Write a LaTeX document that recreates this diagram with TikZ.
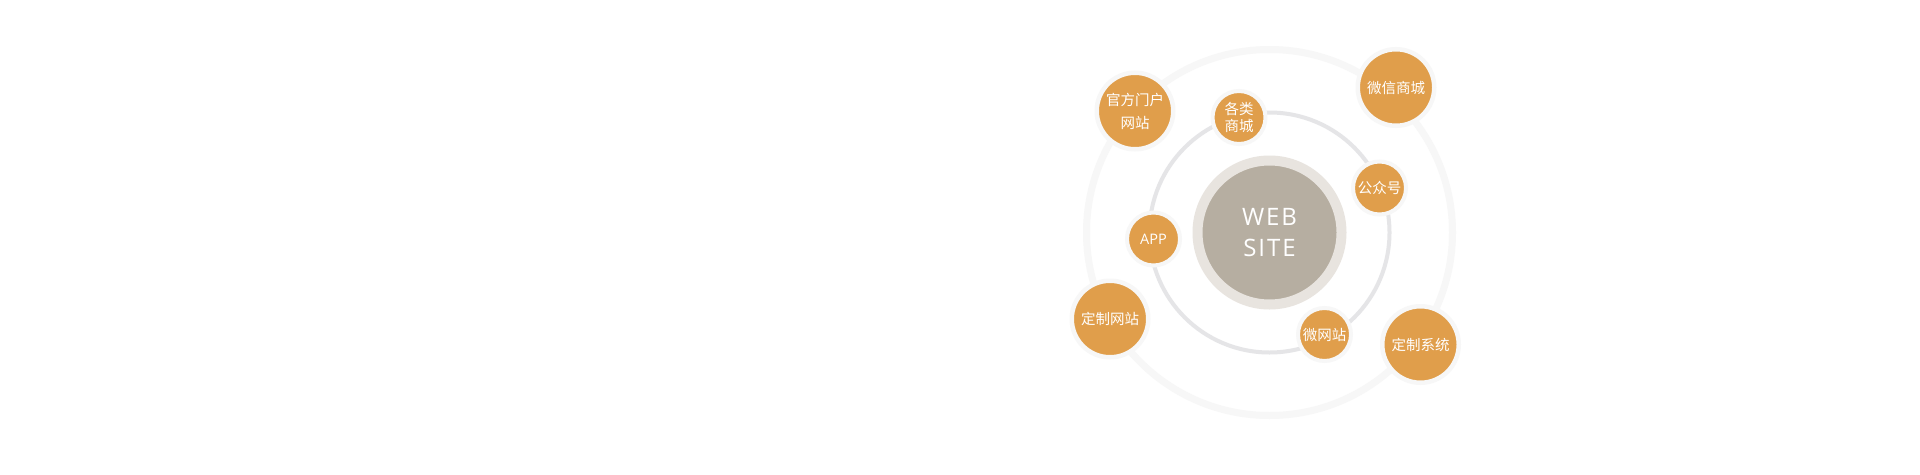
\documentclass[tikz,border=0pt]{standalone}
\usepackage{fontspec}
\newfontfamily\cjk{Noto Sans CJK SC}
\newfontfamily\webfont[LetterSpace=8]{Open Sans}
\newfontfamily\appfont{Open Sans}
\definecolor{siteorange}{HTML}{E09E4B}
\definecolor{sitehalo}{HTML}{F7F7F7}
\definecolor{sitecore}{HTML}{B6AEA1}
\definecolor{sitering}{HTML}{E8E4DF}
\definecolor{orbitin}{HTML}{E5E5E7}
\definecolor{orbitout}{HTML}{F7F7F7}
\begin{document}
\begin{tikzpicture}[x = 1pt, y = -1pt]
		\tikzstyle{every node} = [text = white, align = center, font = {\cjk\fontsize{14.5}{23}\selectfont}]
		\tikzstyle{planet} = [circle, fill = siteorange, draw = sitehalo, inner sep = 0pt]
		\tikzstyle{bigplanet} = [planet, line width = 4.5pt, minimum size = 76.5pt]
		\tikzstyle{smallplanet} = [planet, line width = 4pt, minimum size = 53pt]
		\useasboundingbox (0,0) rectangle (1920,474);
		\fill [white] (0,0) rectangle (1920,474);

		\coordinate (hub) at (1269.5,232.5);
		\draw [orbitout, line width = 7pt] (hub) circle [radius = 183pt]; %outer orbit
		\draw [orbitin, line width = 4pt] (hub) circle [radius = 120pt]; %inner orbit

		\node [circle, fill = sitecore, draw = sitering, line width = 10pt, minimum size = 144pt, inner sep = 0pt,
			font = {\webfont\fontsize{24}{31}\selectfont}] (web) at (hub) {WEB\\SITE};

		%outer orbit
		\node [bigplanet] (guanfang) at (1135,111) {官方门户\\网站};
		\node [bigplanet] (weixinsc) at (1396,87.5) {微信商城};
		\node [bigplanet] (dingzhiwz) at (1110,319) {定制网站};
		\node [bigplanet] (dingzhixt) at (1420.5,344.5) {定制系统};

		%inner orbit
		\node [smallplanet, font = {\cjk\fontsize{14.5}{17}\selectfont}] (gelei) at (1239,117.5) {各类\\商城};
		\node [smallplanet] (gongzhong) at (1379.5,188) {公众号};
		\node [smallplanet, font = {\appfont\fontsize{14.5}{17}\selectfont}] (app) at (1153.5,239) {APP};
		\node [smallplanet] (weiwz) at (1324.5,334.5) {微网站};
	\end{tikzpicture}
\end{document}
